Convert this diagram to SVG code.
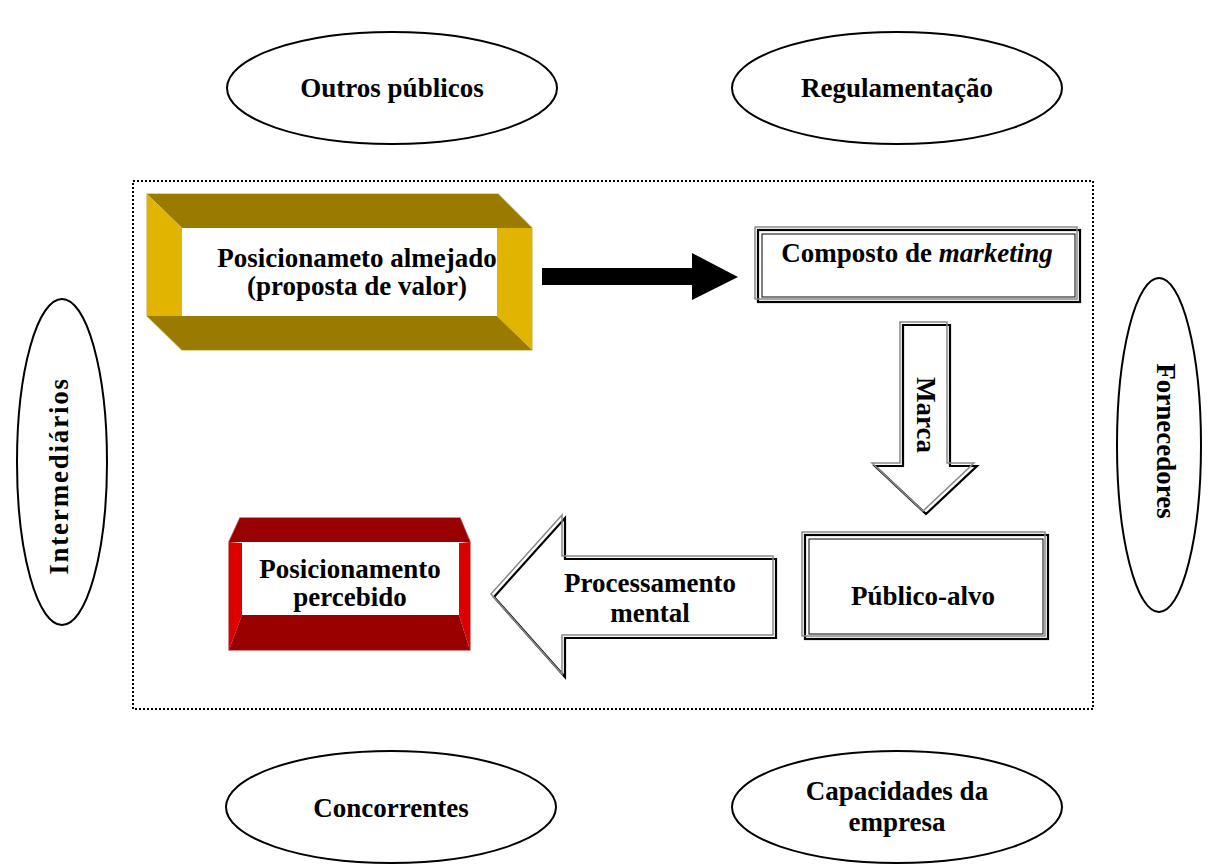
<svg xmlns="http://www.w3.org/2000/svg" width="1210" height="864" viewBox="0 0 1210 864">
<style>
  text { font-family: "Liberation Serif", "Times New Roman", serif; font-weight: bold; font-size: 27px; fill: #000; }
  .mid { text-anchor: middle; }
  .ell { fill: #fff; stroke: #000; stroke-width: 2; }
  .gold-dark { fill: #9A7B00; }
  .gold-light { fill: #E0B400; }
  .red-dark { fill: #990000; }
  .red-light { fill: #DD0000; }
  .shadow { fill: none; stroke: #8a8a8a; stroke-width: 1.5; }
  .front { fill: #fff; stroke: #000; stroke-width: 2.2; }
  .inner { fill: none; stroke: #000; stroke-width: 1; }
</style>

<rect x="0" y="0" width="1210" height="864" fill="#fff"/>

<!-- dotted frame -->
<rect id="frame" x="133" y="181" width="960" height="528" fill="none" stroke="#000" stroke-width="2" stroke-dasharray="2 2"/>

<!-- outer ellipses -->
<g id="outros">
  <ellipse class="ell" cx="392" cy="88" rx="165" ry="56"/>
  <text class="mid" x="392" y="97">Outros públicos</text>
</g>
<g id="regulamentacao">
  <ellipse class="ell" cx="897" cy="88" rx="165" ry="56"/>
  <text class="mid" x="897" y="97">Regulamentação</text>
</g>
<g id="concorrentes">
  <ellipse class="ell" cx="391" cy="807" rx="165" ry="56"/>
  <text class="mid" x="391" y="817">Concorrentes</text>
</g>
<g id="capacidades">
  <ellipse class="ell" cx="897" cy="807" rx="165" ry="56"/>
  <text class="mid" x="897" y="800">Capacidades da</text>
  <text class="mid" x="897" y="831">empresa</text>
</g>
<g id="intermediarios">
  <ellipse class="ell" cx="62" cy="462" rx="45" ry="163"/>
  <text class="mid" transform="translate(68,476) rotate(-90)" x="0" y="0" letter-spacing="1.8">Intermediários</text>
</g>
<g id="fornecedores">
  <ellipse class="ell" cx="1159" cy="445" rx="42" ry="167"/>
  <text class="mid" transform="translate(1157,441) rotate(90)" x="0" y="0">Fornecedores</text>
</g>

<!-- Posicionamento almejado (gold frame box) -->
<g id="almejado">
  <polygon points="147,194 498,194 532,228 532,350 182,350 147,316" fill="#fff" stroke="#D9C77F" stroke-width="1.5"/>
  <polygon class="gold-dark" points="147,194 498,194 532,228 182,228"/>
  <polygon class="gold-light" points="147,194 182,228 182,316 147,316"/>
  <polygon class="gold-light" points="497,228 532,228 532,350 497,316"/>
  <polygon class="gold-dark" points="147,316 497,316 532,350 182,350"/>
  <rect x="182" y="228" width="315" height="88" fill="#fff"/>
  <text class="mid" x="357" y="267">Posicionameto almejado</text>
  <text class="mid" x="357" y="295">(proposta de valor)</text>
</g>

<!-- Composto de marketing -->
<g id="composto">
  <rect class="front" x="758" y="230" width="322" height="72"/>
  <rect class="shadow" x="755" y="227" width="322" height="72"/>
  <rect class="inner" x="762" y="234" width="313" height="63"/>
  <text class="mid" x="917" y="262" font-size="27.5">Composto de <tspan font-style="italic">marketing</tspan></text>
</g>

<!-- Público-alvo -->
<g id="publico">
  <rect class="front" x="805" y="535" width="243" height="104"/>
  <rect class="shadow" x="802" y="532" width="243" height="104"/>
  <rect class="inner" x="809" y="539" width="234" height="95"/>
  <text class="mid" x="923" y="605" font-size="28">Público-alvo</text>
</g>

<!-- Posicionamento percebido (red box) -->
<g id="percebido">
  <polygon points="240,518 460,518 470,542 470,650 229,650 229,542" fill="#fff" stroke="#C86464" stroke-width="1.5"/>
  <polygon class="red-dark" points="240,518 460,518 470,542 229,542"/>
  <polygon class="red-light" points="229,542 242,543 242,615 229,650"/>
  <polygon class="red-light" points="459,543 470,542 470,650 459,615"/>
  <polygon class="red-dark" points="242,615 459,615 470,650 229,650"/>
  <rect x="242" y="543" width="217" height="72" fill="#fff"/>
  <text class="mid" x="350" y="578">Posicionamento</text>
  <text class="mid" x="350" y="606">percebido</text>
</g>

<!-- connectors -->
<g id="connectors">
  <polygon id="arrow-black" points="542,268 692,268 692,253 738,277 692,300 692,285 542,285" fill="#000"/>
  <g id="arrow-marca">
    <polygon class="front" points="903,325 950,325 950,466 977,466 926,514 875,466 903,466"/>
    <polygon class="shadow" points="900,322 947,322 947,463 974,463 923,511 872,463 900,463"/>
    <text class="mid" transform="translate(917,415) rotate(90)" x="0" y="0">Marca</text>
  </g>
  <g id="arrow-processamento">
    <polygon class="front" points="776,559 776,638 565,638 565,677 494,597 565,518 565,559"/>
    <polygon class="shadow" points="773,556 773,635 562,635 562,674 491,594 562,515 562,556"/>
    <text class="mid" x="650" y="592">Processamento</text>
    <text class="mid" x="650" y="622">mental</text>
  </g>
</g>
</svg>
